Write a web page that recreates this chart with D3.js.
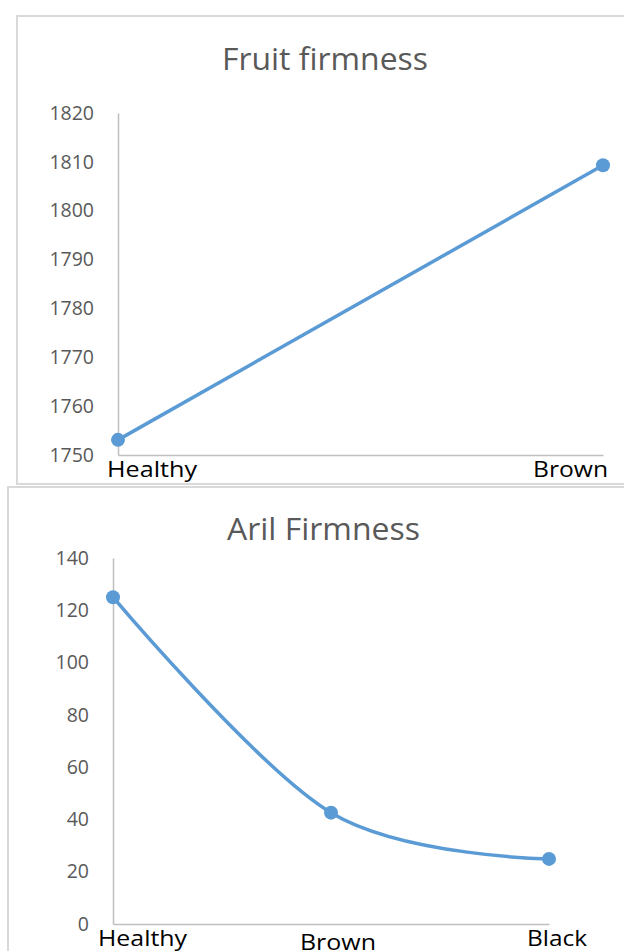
<!DOCTYPE html>
<html>
<head>
<meta charset="utf-8">
<script src="https://cdn.jsdelivr.net/npm/d3@7"></script>
<style>
  html, body { margin: 0; padding: 0; background: #fff; }
  svg { display: block; }
</style>
</head>
<body>
<script>
// Fruit firmness (two stages)
const fruitCategories = ["Healthy", "Brown"];
const fruitValues = [1753.1, 1809.3];
const fruitTicks = [1750, 1760, 1770, 1780, 1790, 1800, 1810, 1820];

// Aril firmness (three stages)
const arilCategories = ["Healthy", "Brown", "Black"];
const arilValues = [125.0, 42.6, 24.9];
const arilTicks = [0, 20, 40, 60, 80, 100, 120, 140];

const W = 624, H = 951;
const LINE = "#5b9bd5";
const GREY_TEXT = "#595959";
const AXIS = "#bfbfbf";
const FRAME = "#d9d9d9";
const FONT = "'Open Sans', 'Noto Sans', sans-serif";

const svg = d3.select("body").append("svg")
  .attr("width", W).attr("height", H);

function drawChart(cfg) {
  const g = svg.append("g");

  // chart frame
  g.append("rect")
    .attr("x", cfg.frame[0]).attr("y", cfg.frame[1])
    .attr("width", cfg.frame[2]).attr("height", cfg.frame[3])
    .attr("fill", "#fff").attr("stroke", FRAME).attr("stroke-width", 2);

  // title
  g.append("text")
    .attr("x", cfg.title.x).attr("y", cfg.title.y)
    .attr("text-anchor", "middle")
    .attr("font-family", FONT).attr("font-size", 31)
    .attr("fill", GREY_TEXT)
    .attr("textLength", cfg.title.len).attr("lengthAdjust", "spacingAndGlyphs")
    .text(cfg.title.text);

  const x = d3.scalePoint().domain(cfg.categories).range(cfg.xRange);
  const y = d3.scaleLinear().domain(cfg.yDomain).range(cfg.yRange);

  // value axis
  const yAxis = g.append("g")
    .attr("transform", `translate(${cfg.xRange[0]},0)`)
    .call(d3.axisLeft(y).tickValues(cfg.ticks).tickSize(0).tickPadding(24).tickFormat(d3.format("d")));
  yAxis.select(".domain").attr("stroke", AXIS).attr("stroke-width", 1.5);
  yAxis.selectAll("text")
    .attr("font-family", FONT).attr("font-size", 19.5)
    .attr("fill", GREY_TEXT);

  // category axis
  const xAxis = g.append("g")
    .attr("transform", `translate(0,${cfg.yRange[0]})`)
    .call(d3.axisBottom(x).tickSize(0).tickFormat(""));
  xAxis.select(".domain").attr("stroke", AXIS).attr("stroke-width", 1.5);

  // category labels
  g.selectAll("text.cat")
    .data(cfg.categories)
    .join("text")
    .attr("class", "cat")
    .attr("x", (d, i) => x(d) + cfg.labelDx[i])
    .attr("y", (d, i) => cfg.labelY[i])
    .attr("text-anchor", (d, i) => cfg.labelAnchor[i])
    .attr("font-family", FONT).attr("font-size", 22)
    .attr("fill", "#000")
    .attr("textLength", (d, i) => cfg.labelLen[i])
    .attr("lengthAdjust", "spacingAndGlyphs")
    .text(d => d);

  const pts = cfg.categories.map((c, i) => [x(c), y(cfg.values[i])]);

  g.append("path")
    .attr("d", d3.line().curve(cfg.curve)(pts))
    .attr("fill", "none")
    .attr("stroke", LINE)
    .attr("stroke-width", 3.5)
    .attr("stroke-linecap", "round");

  g.selectAll("circle")
    .data(pts)
    .join("circle")
    .attr("cx", d => d[0]).attr("cy", d => d[1])
    .attr("r", 7)
    .attr("fill", LINE);
}

drawChart({
  frame: [17, 16, 620, 468],
  title: { text: "Fruit firmness", x: 325, y: 70, len: 206 },
  categories: fruitCategories,
  values: fruitValues,
  ticks: fruitTicks,
  xRange: [118, 603],
  yDomain: [1750, 1820],
  yRange: [455, 113],
  labelDx: [-11, 5],
  labelY: [477, 477],
  labelAnchor: ["start", "end"],
  labelLen: [90, 75],
  curve: d3.curveLinear
});

drawChart({
  frame: [8, 487, 630, 480],
  title: { text: "Aril Firmness", x: 323.5, y: 540, len: 193 },
  categories: arilCategories,
  values: arilValues,
  ticks: arilTicks,
  xRange: [113, 549],
  yDomain: [0, 140],
  yRange: [924, 558],
  labelDx: [-15, 7, 8],
  labelY: [946, 950, 946],
  labelAnchor: ["start", "middle", "middle"],
  labelLen: [89, 76, 60],
  curve: d3.curveCardinal.tension(0)
});
</script>
</body>
</html>
